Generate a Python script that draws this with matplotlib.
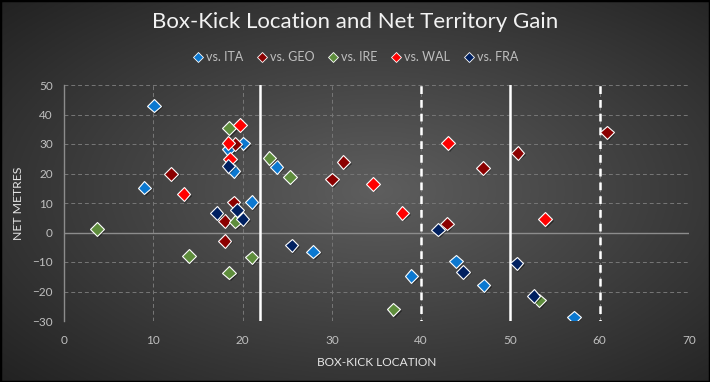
import numpy as np
import matplotlib
matplotlib.use("Agg")
import matplotlib.pyplot as plt
from matplotlib import patheffects as pe

# ---------------- data ----------------
series_names = ["vs. ITA", "vs. GEO", "vs. IRE", "vs. WAL", "vs. FRA"]
series_colors = ["#0B78D0", "#8B0000", "#5E8D3C", "#FF0000", "#002060"]

ita_x = [10.1, 20.1, 18.4, 19.0, 23.8, 9.0, 21.0, 27.9, 38.9, 43.9, 47.0, 57.1]
ita_y = [43.0, 30.2, 28.2, 20.9, 22.2, 15.2, 10.3, -6.5, -14.7, -9.8, -17.9, -28.8]

geo_x = [19.2, 12.0, 19.0, 18.0, 18.0, 31.3, 30.0, 46.9, 50.8, 60.8, 42.9]
geo_y = [30.0, 19.9, 10.2, 3.9, -2.8, 23.9, 18.0, 21.8, 27.0, 33.9, 3.0]

ire_x = [18.5, 23.0, 25.3, 19.2, 3.7, 14.0, 21.0, 18.5, 36.9, 53.2]
ire_y = [35.4, 25.3, 18.9, 3.7, 1.1, -7.9, -8.4, -13.6, -26.1, -23.0]

wal_x = [19.7, 18.4, 18.6, 13.4, 34.6, 37.9, 43.0, 53.9]
wal_y = [36.5, 30.4, 24.9, 13.0, 16.5, 6.6, 30.3, 4.5]

fra_x = [18.4, 17.1, 19.4, 20.0, 25.5, 41.9, 44.7, 50.7, 52.6]
fra_y = [22.6, 6.6, 7.7, 4.6, -4.4, 1.0, -13.3, -10.5, -21.6]

solid_lines_x = [22, 50]
dashed_lines_x = [40, 60]

x_ticks = [0, 10, 20, 30, 40, 50, 60, 70]
y_ticks = [-30, -20, -10, 0, 10, 20, 30, 40, 50]

title = "Box-Kick Location and Net Territory Gain"
x_label = "BOX-KICK LOCATION"
y_label = "NET METRES"

# ---------------- figure ----------------
plt.rcParams["font.family"] = ["Lato", "DejaVu Sans"]
W, H = 710, 382
fig = plt.figure(figsize=(W / 100, H / 100), dpi=100)

# radial gradient background
bg = fig.add_axes([0, 0, 1, 1], zorder=-10)
gx, gy = np.meshgrid(np.linspace(0, 1, 400), np.linspace(0, 1, 220))
r = np.sqrt(((gx - 0.53) / 0.75) ** 2 + ((gy - 0.5) / 0.75) ** 2)
r = np.clip(r, 0, 1)
c_in = np.array([0x5e, 0x5e, 0x5e]) / 255
c_out = np.array([0x20, 0x20, 0x20]) / 255
img = c_in[None, None, :] * (1 - r[..., None]) + c_out[None, None, :] * r[..., None]
bg.imshow(img, extent=[0, 1, 0, 1], aspect="auto", origin="lower")
bg.set_xlim(0, 1)
bg.set_ylim(0, 1)
bg.axis("off")
bg.add_patch(plt.Rectangle((0, 0), 1, 1, transform=bg.transAxes, fill=False,
                           edgecolor="black", linewidth=2.5))

ax = fig.add_axes([64 / W, 1 - 321 / H, (689 - 64) / W, (321 - 85) / H])
ax.set_facecolor("none")
ax.set_xlim(0, 70)
ax.set_ylim(-30, 50)
ax.set_xticks(x_ticks)
ax.set_yticks(y_ticks)
ax.tick_params(length=0, colors="#bfbfbf", labelsize=8.5)
ax.tick_params(axis="x", pad=10)
ax.tick_params(axis="y", pad=8)
for s in ["top", "right", "bottom"]:
    ax.spines[s].set_visible(False)
ax.spines["left"].set_color("#8c8c8c")
ax.spines["left"].set_linewidth(1)
ax.grid(True, color="#777777", linestyle=(0, (4, 3)), linewidth=0.7)
ax.set_axisbelow(True)
ax.axhline(0, color="#8c8c8c", linewidth=1.0, zorder=1)

for xv in solid_lines_x:
    ax.axvline(xv, color="white", linewidth=1.8, zorder=2)
for xv in dashed_lines_x:
    ax.axvline(xv, color="white", linewidth=1.8, linestyle=(2.5, (3.1, 2.4)), zorder=2)

xs = [ita_x, geo_x, ire_x, wal_x, fra_x]
ys = [ita_y, geo_y, ire_y, wal_y, fra_y]
shadow = [pe.SimplePatchShadow(offset=(1.2, -1.2), shadow_rgbFace="black", alpha=0.45), pe.Normal()]
for name, col, x, y in zip(series_names, series_colors, xs, ys):
    ax.plot(x, y, linestyle="none", marker="D", markersize=6.9,
            markerfacecolor=col, markeredgecolor="white", markeredgewidth=0.8,
            label=name, zorder=5, path_effects=shadow)

ax.set_xlabel(x_label, color="#e6e6e6", fontsize=8.6, labelpad=8)
ax.set_ylabel(y_label, color="#e6e6e6", fontsize=8.8, labelpad=6)

fig.text(0.5, 1 - 22 / H, title, ha="center", va="center", color="#f2f2f2",
         fontsize=16)

leg_handles = [plt.Line2D([], [], linestyle="none", marker="D", markersize=5,
                          markerfacecolor=c, markeredgecolor="white", markeredgewidth=0.6)
               for c in series_colors]
fig.legend(leg_handles, series_names, loc="center", bbox_to_anchor=(0.5, 1 - 57 / H),
           ncol=5, frameon=False, fontsize=9, labelcolor="#bfbfbf",
           handletextpad=0.15, columnspacing=1.0, handlelength=1.0)

fig.savefig("out.png", dpi=100)
